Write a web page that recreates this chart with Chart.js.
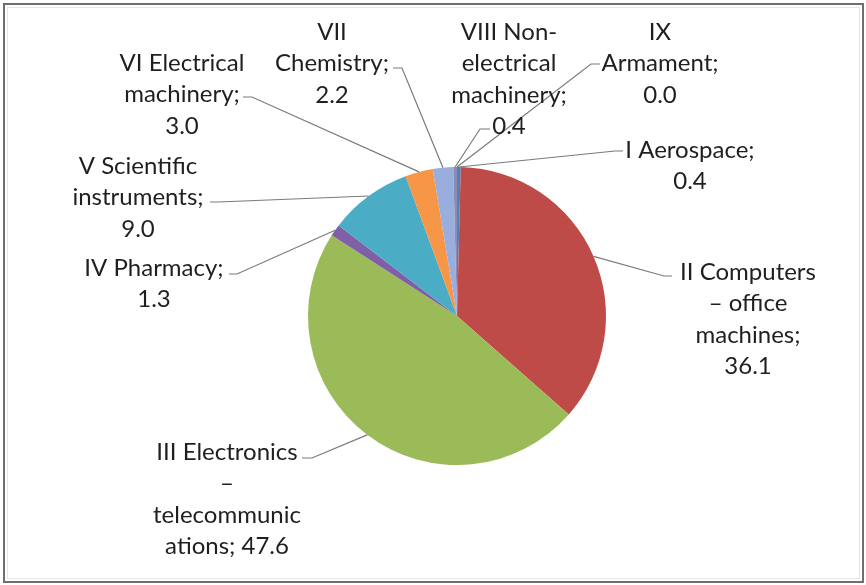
<!DOCTYPE html>
<html>
<head>
<meta charset="utf-8">
<script src="https://cdn.jsdelivr.net/npm/chart.js@4.4.1/dist/chart.umd.min.js"></script>
<style>
  html, body { margin: 0; padding: 0; background: #ffffff; }
  #wrap { width: 866px; height: 585px; position: relative; }
</style>
</head>
<body>
<div id="wrap"><canvas id="c" width="866" height="585"></canvas></div>
<script>
// ---- data ----
const categories = [
  "I Aerospace",
  "II Computers – office machines",
  "III Electronics – telecommunications",
  "IV Pharmacy",
  "V Scientific instruments",
  "VI Electrical machinery",
  "VII Chemistry",
  "VIII Non-electrical machinery",
  "IX Armament"
];
const values = [0.4, 36.1, 47.6, 1.3, 9.0, 3.0, 2.2, 0.4, 0.0];
const sliceColors = ["#4F81BD", "#BE4B48", "#9BBB59", "#7F5FA5", "#4BACC6", "#F79646", "#9AAEDE", "#8A8CB4", "#6A7FB0"];
// label text as displayed (wrapped); {v} is replaced by the value
const labelLines = [
  ["I Aerospace;", "{v}"],
  ["II Computers", "– office", "machines;", "{v}"],
  ["III Electronics", "–", "telecommunic", "ations; {v}"],
  ["IV Pharmacy;", "{v}"],
  ["V Scientific", "instruments;", "{v}"],
  ["VI Electrical", "machinery;", "{v}"],
  ["VII", "Chemistry;", "{v}"],
  ["VIII Non-", "electrical", "machinery;", "{v}"],
  ["IX", "Armament;", "{v}"]
];
// label placement (layout): centre x, first-line y, leader anchor and elbow
const labelPos = [
  {x: 690, y: 150, ax: 623, ay: 151, ex: 615, ey: 151},
  {x: 748, y: 272, ax: 672, ay: 276, ex: 664, ey: 276},
  {x: 227, y: 452, ax: 302, ay: 458, ex: 312, ey: 458},
  {x: 154, y: 268, ax: 229, ay: 274, ex: 237, ey: 274},
  {x: 138, y: 166, ax: 210, ay: 202, ex: 218, ey: 202},
  {x: 182, y: 63,  ax: 243, ay: 97,  ex: 252, ey: 97},
  {x: 332, y: 32,  ax: 393, ay: 68,  ex: 402, ey: 68},
  {x: 509, y: 32,  ax: 490, ay: 129, ex: 480, ey: 129},
  {x: 660, y: 32,  ax: 600, ay: 64,  ex: 591, ey: 64}
];

const labelPlugin = {
  id: 'labelPlugin',
  afterDraw(chart) {
    const ctx = chart.ctx;
    const meta = chart.getDatasetMeta(0);
    ctx.save();
    // outer frame
    ctx.strokeStyle = '#6f6f6f';
    ctx.lineWidth = 2;
    ctx.strokeRect(4, 4, 859, 578);
    ctx.strokeStyle = '#e6e6e6';
    ctx.lineWidth = 1;
    ctx.strokeRect(7.5, 7.5, 852, 571);
    // leader lines
    ctx.strokeStyle = '#7a7a7a';
    ctx.lineWidth = 1.2;
    meta.data.forEach((arc, i) => {
      const p = arc.getProps(['x', 'y', 'startAngle', 'endAngle', 'outerRadius'], true);
      const mid = (p.startAngle + p.endAngle) / 2;
      const px = p.x + Math.cos(mid) * p.outerRadius;
      const py = p.y + Math.sin(mid) * p.outerRadius;
      const L = labelPos[i];
      ctx.beginPath();
      ctx.moveTo(L.ax, L.ay);
      ctx.lineTo(L.ex, L.ey);
      ctx.lineTo(px, py);
      ctx.stroke();
    });
    // label text
    ctx.fillStyle = '#1f1f1f';
    ctx.font = '24px Lato';
    ctx.textAlign = 'center';
    ctx.textBaseline = 'middle';
    labelLines.forEach((lines, i) => {
      const L = labelPos[i];
      lines.forEach((t, k) => {
        const txt = t.replace('{v}', values[i].toFixed(1));
        ctx.fillText(txt, L.x, L.y + k * 31.5);
      });
    });
    ctx.restore();
  }
};

new Chart(document.getElementById('c'), {
  type: 'pie',
  data: {
    labels: categories,
    datasets: [{
      data: values,
      backgroundColor: sliceColors,
      borderWidth: 0
    }]
  },
  options: {
    responsive: false,
    animation: false,
    layout: { padding: { left: 308, right: 260, top: 167, bottom: 120 } },
    plugins: {
      legend: { display: false },
      tooltip: { enabled: false }
    }
  },
  plugins: [labelPlugin]
});
</script>
</body>
</html>
